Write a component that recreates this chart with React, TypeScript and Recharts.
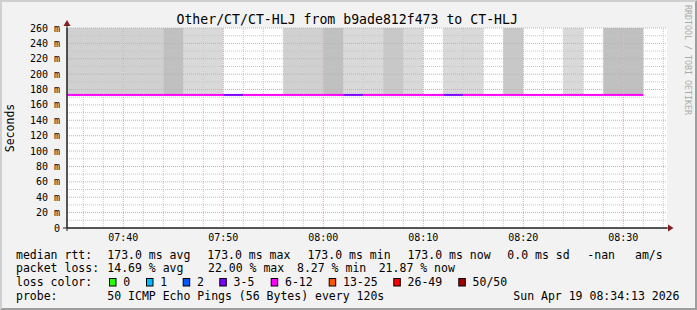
import React from 'react';
import { ComposedChart, Area, Line, XAxis, YAxis, ReferenceLine, CartesianGrid } from 'recharts';

const W = 697;
const H = 310;
const FONT = '"DejaVu Sans Mono", "Liberation Mono", monospace';

const title = 'Other/CT/CT-HLJ from b9ade812f473 to CT-HLJ';
const yLabel = 'Seconds';
const watermark = 'RRDTOOL / TOBI OETIKER';

// start of each 120 s step, minutes after midnight (07:34 ... 08:30)
const intervalStart = [
  454, 456, 458, 460, 462, 464, 466, 468, 470, 472, 474, 476, 478, 480, 482,
  484, 486, 488, 490, 492, 494, 496, 498, 500, 502, 504, 506, 508, 510,
];
const stepMinutes = 2;

// median rtt per step (ms)
const medianRtt = [
  173, 173, 173, 173, 173, 173, 173, 173, 173, 173, 173, 173, 173, 173, 173,
  173, 173, 173, 173, 173, 173, 173, 173, 173, 173, 173, 173, 173, 173,
];

// upper edge of the smoke (ms, runs off the top of the scale); null = no smoke
const smokeHigh = [
  260, 260, 260, 260, 260, 260, 260, 260, null, null, null, 260, 260, 260, 260,
  260, 260, 260, null, 260, 260, null, 260, null, null, 260, null, 260, 260,
];
// smoke density class per step (1 = faint ... 4 = dense)
const smokeLevel = [
  2, 2, 2, 2, 2, 4, 1, 1, 0, 0, 0, 2, 2, 4, 1,
  1, 3, 1, 0, 1, 1, 0, 3, 0, 0, 1, 0, 4, 4,
];

// packet-loss bin per step
const lossBin = [
  '6-12', '6-12', '6-12', '6-12', '6-12', '6-12', '6-12', '6-12', '3-5', '6-12',
  '6-12', '6-12', '6-12', '6-12', '3-5', '6-12', '6-12', '6-12', '6-12', '3-5',
  '6-12', '6-12', '6-12', '6-12', '6-12', '6-12', '6-12', '6-12', '6-12',
];

const lossLegend = ['0', '1', '2', '3-5', '6-12', '13-25', '26-49', '50/50'];

const xTicks = [460, 470, 480, 490, 500, 510];
const yTicks = [0, 20, 40, 60, 80, 100, 120, 140, 160, 180, 200, 220, 240, 260];
const yMinorGrid = [10, 30, 50, 70, 90, 110, 130, 150, 170, 190, 210, 230, 250];
const xMinorGrid = [
  456, 458, 462, 464, 466, 468, 472, 474, 476, 478, 482, 484, 486, 488, 492,
  494, 496, 498, 502, 504, 506, 508, 512, 514,
];

const medianStats = [
  'median rtt:', '173.0 ms avg', '173.0 ms max', '173.0 ms min', '173.0 ms now',
  '0.0 ms sd', '-nan', 'am/s',
];
const lossStats = ['packet loss:', '14.69 % avg', '22.00 % max', '8.27 % min', '21.87 % now'];
const probeRow = ['probe:', '50 ICMP Echo Pings (56 Bytes) every 120s', 'Sun Apr 19 08:34:13 2026'];

// ---- styles ----
const shadeColor: Record<number, string> = { 1: '#d9d9d9', 2: '#d0d0d0', 3: '#c8c8c8', 4: '#c0c0c0' };
const lossColor: Record<string, string> = {
  '0': '#26ff00', '1': '#00b8ff', '2': '#0059ff', '3-5': '#7e00ff',
  '6-12': '#ff00ff', '13-25': '#ff5500', '26-49': '#ff0000', '50/50': '#a10000',
};
const minorGridColor = '#c6c6c6';
const majorGridColor = '#e8a0a0';

const medianX = [16, 107.3, 207.3, 307.5, 407.5, 507.3, 587.3, 635];
const lossX = [16, 107.3, 208, 297, 378.7];
const legendBoxX = [109, 146, 182.7, 219.3, 270.7, 328.7, 393.3, 458.3];
const probeX = [16, 107.3, 513.3];
const rowY = [258.6, 272.2, 286, 299.6];

const pad2 = (n: number) => String(n).padStart(2, '0');
const fmtTime = (m: number) => `${pad2(Math.floor(m / 60))}:${pad2(Math.round(m % 60))}`;
const fmtY = (v: number) => (v === 0 ? '0' : `${v} m`);

export default function App() {
  const lgText = { fontFamily: FONT, fontSize: 11.5, fill: '#000' } as const;
  return (
    <div style={{ position: 'fixed', left: 0, top: 0, width: W, height: H, background: '#f2f2f2' }}>
      <div style={{ position: 'absolute', left: 0, top: 0 }}>
        <ComposedChart width={W} height={H} margin={{ top: 28, right: 30, bottom: 62, left: 0 }}>
          <CartesianGrid fill="#ffffff" horizontal={false} vertical={false} stroke="none" />
          <XAxis
            type="number"
            dataKey="t"
            domain={[454.37, 514.37]}
            allowDataOverflow
            ticks={xTicks}
            tickFormatter={fmtTime}
            height={20}
            tickLine={false}
            tickSize={0}
            tickMargin={6}
            axisLine={{ stroke: '#1f1f1f' }}
            tick={{ fontFamily: FONT, fontSize: 10, fill: '#000' }}
            interval={0}
          />
          <YAxis
            type="number"
            domain={[0, 260]}
            allowDataOverflow
            ticks={yTicks}
            tickFormatter={fmtY}
            width={67}
            tickLine={false}
            tickSize={0}
            tickMargin={7}
            axisLine={{ stroke: '#1f1f1f' }}
            tick={{ fontFamily: FONT, fontSize: 10, fill: '#000' }}
            interval={0}
          />
          {intervalStart.map((t, i) =>
            smokeLevel[i] > 0 && smokeHigh[i] != null ? (
              <Area
                key={'smoke' + i}
                data={[
                  { t, r: [medianRtt[i], smokeHigh[i]] },
                  { t: t + stepMinutes, r: [medianRtt[i], smokeHigh[i]] },
                ]}
                dataKey="r"
                type="linear"
                stroke="none"
                fill={shadeColor[smokeLevel[i]]}
                fillOpacity={1}
                dot={false}
                activeDot={false}
                isAnimationActive={false}
              />
            ) : null
          )}
          {yMinorGrid.map((v) => (
            <ReferenceLine key={'ym' + v} y={v} stroke={minorGridColor} strokeDasharray="1 1" />
          ))}
          {xMinorGrid.map((v) => (
            <ReferenceLine key={'xm' + v} x={v} stroke={minorGridColor} strokeDasharray="1 1" />
          ))}
          {yTicks.filter((v) => v > 0).map((v) => (
            <ReferenceLine key={'yM' + v} y={v} stroke={majorGridColor} strokeDasharray="1 1" />
          ))}
          {xTicks.map((v) => (
            <ReferenceLine key={'xM' + v} x={v} stroke={majorGridColor} strokeDasharray="1 1" />
          ))}
          {intervalStart.map((t, i) => (
            <Line
              key={'rtt' + i}
              data={[
                { t, v: medianRtt[i] },
                { t: t + stepMinutes, v: medianRtt[i] },
              ]}
              dataKey="v"
              type="linear"
              stroke={lossColor[lossBin[i]]}
              strokeWidth={2}
              dot={false}
              activeDot={false}
              isAnimationActive={false}
            />
          ))}
        </ComposedChart>
      </div>
      <svg
        width={W}
        height={H}
        style={{ position: 'absolute', left: 0, top: 0, pointerEvents: 'none' }}
      >
        {/* frame */}
        <polygon points={`0,0 ${W},0 ${W - 2},2 2,2 2,${H - 2} 0,${H}`} fill="#cfcfcf" />
        <polygon points={`${W},0 ${W},${H} 0,${H} 2,${H - 2} ${W - 2},${H - 2} ${W - 2},2`} fill="#9e9e9e" />
        {/* axis extensions and arrows */}
        <line x1={63} y1={228} x2={669} y2={228} stroke="#1f1f1f" strokeWidth={1} />
        <line x1={67} y1={231} x2={67} y2={24} stroke="#1f1f1f" strokeWidth={1} />
        <polygon points="668,224.5 673.5,228 668,231.5" fill="#801f1f" />
        <polygon points="63.5,26 67,20 70.5,26" fill="#801f1f" />
        {/* title */}
        <text x={347.2} y={24} textAnchor="middle" style={{ fontFamily: FONT, fontSize: 13.2, fill: '#000' }}>
          {title}
        </text>
        <text
          x={14}
          y={128}
          textAnchor="middle"
          transform="rotate(-90 14 128)"
          style={{ fontFamily: FONT, fontSize: 11.5, fill: '#000' }}
        >
          {yLabel}
        </text>
        <text
          x={685}
          y={5}
          transform="rotate(90 685 5)"
          style={{ fontFamily: FONT, fontSize: 8.3, fill: '#aaaaaa' }}
        >
          {watermark}
        </text>
        {/* legend */}
        {medianStats.map((s, i) => (
          <text key={'md' + i} x={medianX[i]} y={rowY[0]} style={lgText}>{s}</text>
        ))}
        {lossStats.map((s, i) => (
          <text key={'ls' + i} x={lossX[i]} y={rowY[1]} style={lgText}>{s}</text>
        ))}
        <text x={16} y={rowY[2]} style={lgText}>loss color:</text>
        {lossLegend.map((b, i) => (
          <g key={'lc' + b}>
            <rect
              x={legendBoxX[i] + 0.5}
              y={278.5}
              width={6.5}
              height={7.5}
              fill={lossColor[b]}
              stroke="#000"
              strokeWidth={1}
            />
            <text x={legendBoxX[i] + 14.3} y={rowY[2]} style={lgText}>{b}</text>
          </g>
        ))}
        {probeRow.map((s, i) => (
          <text key={'pr' + i} x={probeX[i]} y={rowY[3]} style={lgText}>{s}</text>
        ))}
      </svg>
    </div>
  );
}
